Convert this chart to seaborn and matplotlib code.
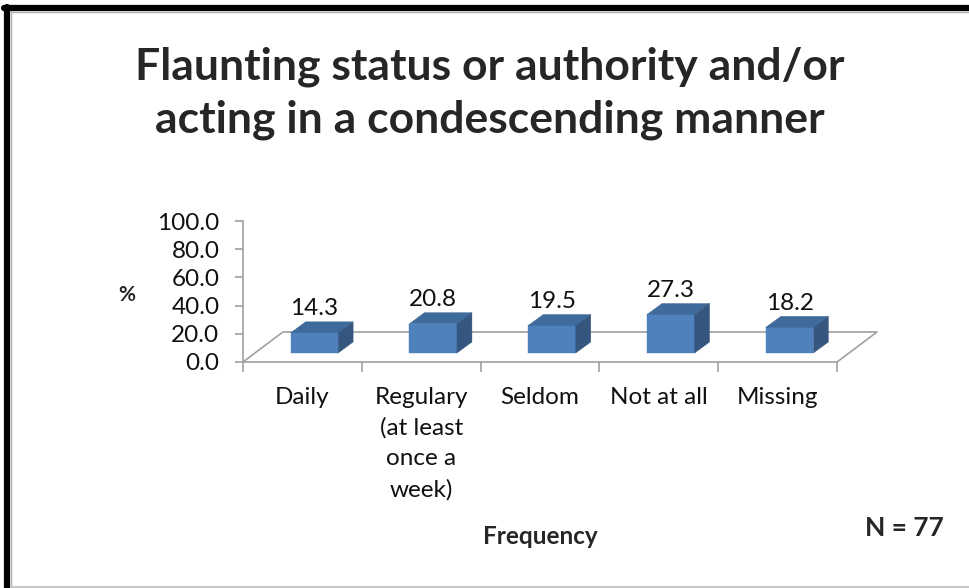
import matplotlib
matplotlib.use("Agg")
import matplotlib.pyplot as plt
import seaborn as sns
from matplotlib.patches import Polygon
from matplotlib.lines import Line2D

categories = ["Daily", "Regulary\n(at least\nonce a\nweek)", "Seldom", "Not at all", "Missing"]
values = [14.3, 20.8, 19.5, 27.3, 18.2]
yticks = [0, 20, 40, 60, 80, 100]
title = "Flaunting status or authority and/or\nacting in a condescending manner"

sns.set_theme(style="white")
plt.rcParams["font.family"] = ["Lato", "DejaVu Sans"]

W, H = 969, 588
fig = plt.figure(figsize=(W / 100, H / 100), dpi=100)

# axes placement (pixels)
ax_left, ax_right, ax_bottom, ax_top = 243, 877, 362, 221
ax = fig.add_axes([ax_left / W, 1 - ax_bottom / H, (ax_right - ax_left) / W, (ax_bottom - ax_top) / H])

# depth parameters (data units)
DX, DY = 0.336, 21.3          # full floor depth
OX, OY = 0.3 * DX, 0.3 * DY   # bar front plane offset
BX, BY = 0.126, 7.8           # bar depth

front_c, top_c, side_c = "#4F81BD", "#3F6A9C", "#34567F"

sns.barplot(x=list(range(len(categories))), y=values, width=0.4, color=front_c,
            saturation=1, ax=ax, native_scale=True, zorder=3)

for p in list(ax.patches):
    x, w, h = p.get_x(), p.get_width(), p.get_height()
    p.set_x(x + OX)
    p.set_y(OY)
    p.set_edgecolor(front_c)
    p.set_linewidth(0.3)
    x0 = x + OX
    top = Polygon([(x0, OY + h), (x0 + w, OY + h), (x0 + w + BX, OY + h + BY), (x0 + BX, OY + h + BY)],
                  closed=True, facecolor=top_c, edgecolor=top_c, lw=0.3, zorder=3, clip_on=False)
    side = Polygon([(x0 + w, OY), (x0 + w + BX, OY + BY), (x0 + w + BX, OY + h + BY), (x0 + w, OY + h)],
                   closed=True, facecolor=side_c, edgecolor=side_c, lw=0.3, zorder=3, clip_on=False)
    ax.add_patch(top)
    ax.add_patch(side)

for i, v in enumerate(values):
    ax.annotate(f"{v:.1f}", xy=(i + OX, OY + v + BY), xytext=(0, 2), textcoords="offset points",
                ha="center", va="bottom", fontsize=17.5, color="#111111", annotation_clip=False)

n = len(categories)
ax.set_xlim(-0.5, n - 0.5 + DX)
ax.set_ylim(0, 100)

# floor outline
floor_c = "#A0A0A0"
ax.add_line(Line2D([-0.5, -0.5 + DX, n - 0.5 + DX, n - 0.5], [0, DY, DY, 0],
                   color=floor_c, lw=1.2, zorder=1, clip_on=False))
ax.add_line(Line2D([-0.5, n - 0.5], [0, 0], color=floor_c, lw=1.2, zorder=1, clip_on=False))

for s in ["top", "right", "bottom"]:
    ax.spines[s].set_visible(False)
ax.spines["left"].set_color(floor_c)
ax.spines["left"].set_linewidth(1.2)

ax.set_yticks(yticks)
ax.set_yticklabels([f"{t:.1f}" for t in yticks])
ax.set_xticks([i - 0.5 for i in range(n + 1)], minor=True)
ax.set_xticks(list(range(n)))
ax.set_xticklabels(categories)
ax.tick_params(axis="x", which="major", length=0, pad=18, labelsize=17.5, labelcolor="#111111")
ax.tick_params(axis="x", which="minor", bottom=True, length=7, width=1.2, color=floor_c)
ax.tick_params(axis="y", left=True, length=6, width=1.2, color=floor_c, pad=11,
               labelsize=17.5, labelcolor="#111111")
for lab in ax.get_xticklabels():
    lab.set_linespacing(1.54)
ax.set_xlabel("")
ax.set_ylabel("")

fig.text(127 / W, 1 - 295 / H, "%", ha="center", va="center", fontsize=15, fontweight="bold")
fig.text(540 / W, 1 - 537 / H, "Frequency", ha="center", va="center", fontsize=17.5, fontweight="bold")
fig.text(904 / W, 1 - 528 / H, "N = 77", ha="center", va="center", fontsize=19, fontweight="bold")
fig.text(490 / W, 1 - 93 / H, title, ha="center", va="center", fontsize=32, fontweight="bold",
         linespacing=1.38)

# frame
fig.add_artist(Line2D([7 / W, 7 / W], [0, 1 - 7 / H], color="black", lw=4.5, transform=fig.transFigure))
fig.add_artist(Line2D([4 / W, 1], [1 - 8 / H, 1 - 8 / H], color="black", lw=4.5, transform=fig.transFigure))
fig.add_artist(Line2D([11 / W, 11 / W], [0, 1 - 11 / H], color="#B0B0B0", lw=1, transform=fig.transFigure))
fig.add_artist(Line2D([11 / W, 1], [1 - 12 / H, 1 - 12 / H], color="#B0B0B0", lw=1, transform=fig.transFigure))
fig.add_artist(Line2D([11 / W, 1], [1 - 587 / H, 1 - 587 / H], color="#C8C8C8", lw=1.5, transform=fig.transFigure))

fig.savefig("out.png", dpi=100)
